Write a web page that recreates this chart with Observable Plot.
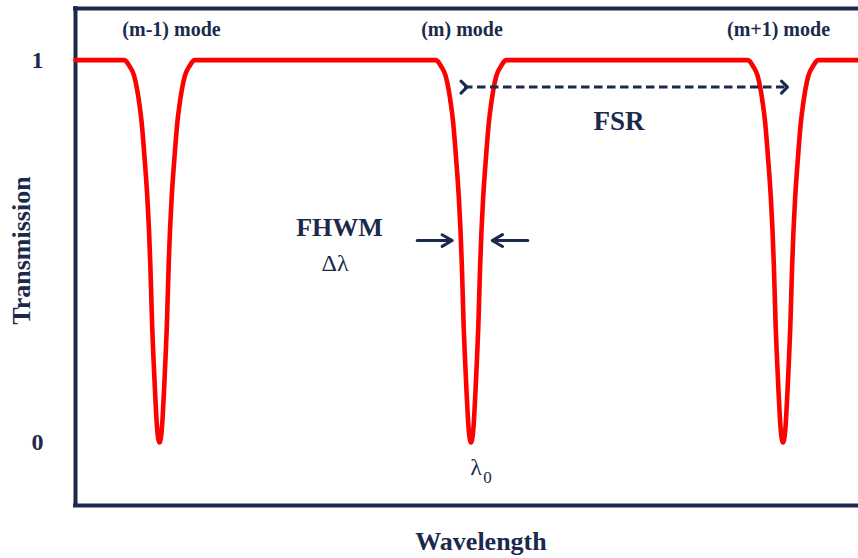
<!DOCTYPE html>
<html>
<head>
<meta charset="utf-8">
<script src="https://cdn.jsdelivr.net/npm/d3@7"></script>
<script src="https://cdn.jsdelivr.net/npm/@observablehq/plot@0.6"></script>
<style>
  body { margin: 0; background: #fff; }
</style>
</head>
<body>
<div id="chart"></div>
<script>
// ---- data (wavelength in arbitrary units, transmission 0..1) ----
const modeLabels = ["(m-1) mode", "(m) mode", "(m+1) mode"];
const modeCenters = [84, 395.5, 707.5];
const modeLabelX = [96, 386.5, 703];
// one resonance dip: half width vs. transmission
const dipHalfWidth    = [35, 33,    30.4,  25.5, 22.5,  19.9,  17.9,  16.4,  14.5,  12.2,  10.5,  9.2,   8.2,  7.3,   6.0,  4.6,  3.2,   2.0,   0];
const dipTransmission = [1,  0.996, 0.986, 0.96, 0.925, 0.881, 0.838, 0.794, 0.729, 0.642, 0.555, 0.467, 0.38, 0.302, 0.22, 0.14, 0.069, 0.025, 0];
const wavelengthRange = [0, 783];
const yTicks = [0, 1];
const yTickLabels = ["0", "1"];

// annotation anchors (data units)
const fsrArrow = [{x1: 388.5, x2: 709, y: 0.9294}];
const fwhmArrows = [
  {x1: 341.7, x2: 376.7, y: 0.528},
  {x1: 452.3, x2: 416.7, y: 0.528}
];
const boldNotes = [
  {x: 543.5, y: 0.8386, text: "FSR", size: 27},
  {x: 264, y: 0.561, text: "FHWM", size: 26}
];
const plainNotes = [
  {x: 259.5, y: 0.468, text: "Δλ", size: 24},
  {x: 400.5, y: -0.066, text: "λ", size: 24},
  {x: 412, y: -0.0915, text: "0", size: 17}
];

// build the transmission curve from the dip profile
const curve = [{x: wavelengthRange[0], T: 1}];
for (const c of modeCenters) {
  for (let i = 0; i < dipHalfWidth.length; i++) curve.push({x: c - dipHalfWidth[i], T: dipTransmission[i]});
  for (let i = dipHalfWidth.length - 2; i >= 0; i--) curve.push({x: c + dipHalfWidth[i], T: dipTransmission[i]});
}
curve.push({x: wavelengthRange[1], T: 1});

const navy = "#1b2a4c";
const yDomain = [-0.165, 1.135];

const chart = Plot.plot({
  width: 858,
  height: 558,
  marginLeft: 75,
  marginRight: 0,
  marginTop: 8,
  marginBottom: 53,
  style: {fontFamily: "'Liberation Serif', 'Times New Roman', serif", color: navy, background: "#fff"},
  x: {domain: wavelengthRange, axis: null},
  y: {domain: yDomain},
  marks: [
    Plot.ruleX([wavelengthRange[0]], {stroke: navy, strokeWidth: 4, strokeLinecap: "square"}),
    Plot.ruleY(yDomain, {stroke: navy, strokeWidth: 4, strokeLinecap: "square"}),
    Plot.axisY({ticks: yTicks, tickFormat: (d) => yTickLabels[yTicks.indexOf(d)], tickSize: 0, tickPadding: 32,
      fontSize: 24, fontWeight: "bold", label: null}),
    Plot.text(["Transmission"], {frameAnchor: "left", textAnchor: "middle", lineAnchor: "middle", rotate: -90,
      dx: -54, dy: -6.5, fontSize: 26, fontWeight: "bold"}),
    Plot.text(["Wavelength"], {frameAnchor: "bottom", textAnchor: "middle", lineAnchor: "middle",
      dx: 14, dy: 36, fontSize: 26, fontWeight: "bold"}),
    Plot.line(curve, {x: "x", y: "T", stroke: "#ff0000", strokeWidth: 4.6, curve: "monotone-x"}),
    Plot.text(modeLabels, {x: (d, i) => modeLabelX[i], y: 1.08, text: d => d, fontSize: 20, fontWeight: "bold"}),
    Plot.link(fsrArrow, {x1: "x1", x2: "x2", y1: "y", y2: "y", stroke: navy, strokeWidth: 3,
      strokeDasharray: "8.5,4.5", markerStart: "arrow", markerEnd: "arrow"}),
    Plot.arrow(fwhmArrows, {x1: "x1", x2: "x2", y1: "y", y2: "y", stroke: navy, strokeWidth: 3, headLength: 9}),
    Plot.text(boldNotes, {x: "x", y: "y", text: "text", fontSize: d => d.size, fontWeight: "bold"}),
    Plot.text(plainNotes, {x: "x", y: "y", text: "text", fontSize: d => d.size})
  ]
});
document.getElementById("chart").appendChild(chart);
</script>
</body>
</html>
